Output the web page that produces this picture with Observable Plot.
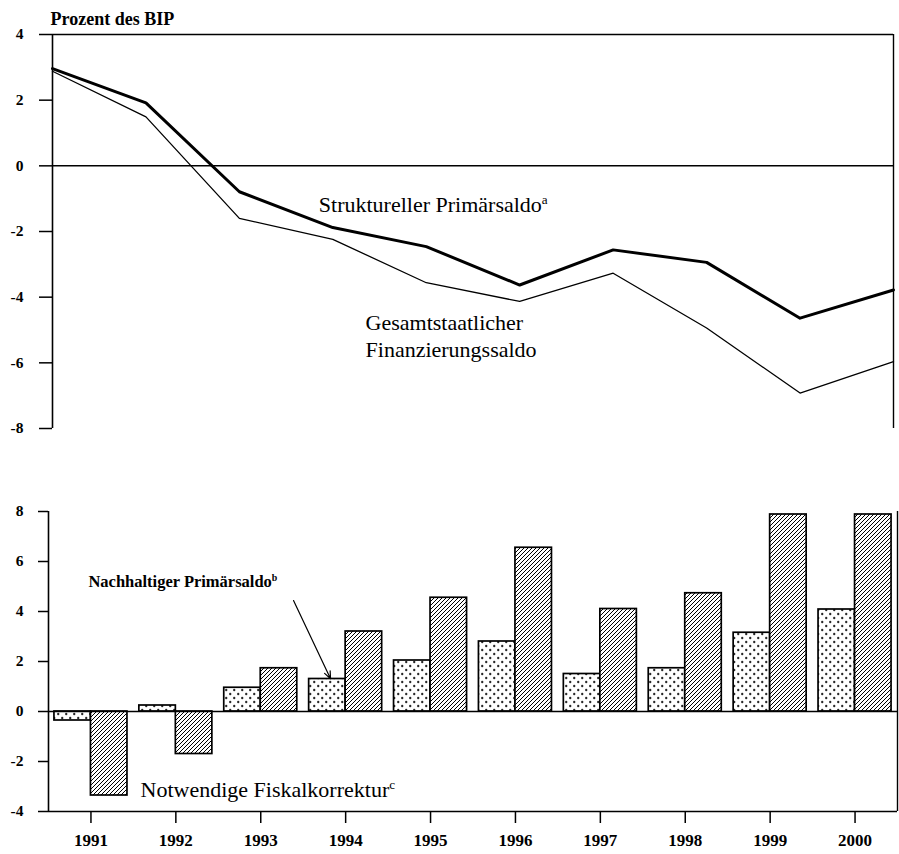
<!DOCTYPE html>
<html><head><meta charset="utf-8">
<script src="https://cdn.jsdelivr.net/npm/d3@7"></script>
<script src="https://cdn.jsdelivr.net/npm/@observablehq/plot@0.6"></script>
<style>
body{margin:0;background:#fff;}
#chart{width:899px;height:854px;position:relative;background:#fff;}
#chart svg{display:block;}
</style></head><body>
<svg width="0" height="0" style="position:absolute">
<defs>
<pattern id="dots" width="8" height="8" patternUnits="userSpaceOnUse">
<rect width="8" height="8" fill="white"/>
<path d="M1,2h2.4M2.2,0.8v2.4M5,6h2.4M6.2,4.8v2.4" stroke="black" stroke-width="1"/>
</pattern>
<pattern id="hatch" width="4" height="4" patternUnits="userSpaceOnUse">
<rect width="4" height="4" fill="white"/>
<path d="M-1,1 l2,-2 M0,4 l4,-4 M3,5 l2,-2" stroke="black" stroke-width="1"/>
</pattern>
</defs></svg>
<div id="chart"></div>
<script>
const years = [1991, 1992, 1993, 1994, 1995, 1996, 1997, 1998, 1999, 2000];
const strukturellerPrimaersaldo = [2.96, 1.92, -0.79, -1.88, -2.46, -3.63, -2.56, -2.94, -4.64, -3.78];
const finanzierungssaldo = [2.88, 1.49, -1.6, -2.24, -3.56, -4.13, -3.27, -4.94, -6.92, -5.96];
const nachhaltigerPrimaersaldo = [-0.36, 0.24, 0.95, 1.3, 2.04, 2.8, 1.5, 1.73, 3.15, 4.08];
const fiskalkorrektur = [-3.36, -1.7, 1.73, 3.2, 4.55, 6.55, 4.1, 4.73, 7.88, 7.88];
const yTicksTop = [-8, -6, -4, -2, 0, 2, 4];
const yTicksBottom = [-4, -2, 0, 2, 4, 6, 8];

const lineStruct = years.map((year, i) => ({year, v: strukturellerPrimaersaldo[i]}));
const lineFin = years.map((year, i) => ({year, v: finanzierungssaldo[i]}));
const barsNach = years.map((year, i) => ({year, v: nachhaltigerPrimaersaldo[i]}));
const barsFisk = years.map((year, i) => ({year, v: fiskalkorrektur[i]}));
const barWidth = 0.43;
const font = "'Liberation Serif', 'Times New Roman', serif";

const topChart = Plot.plot({
  width: 899, height: 440,
  marginLeft: 52, marginRight: 6, marginTop: 34, marginBottom: 12,
  style: {fontFamily: font, fontSize: "15px", fontWeight: "bold", background: "white", color: "black"},
  x: {domain: [years[0], years[years.length - 1]], axis: null},
  y: {domain: [-8, 4]},
  marks: [
    Plot.axisY({ticks: yTicksTop, tickSize: 13, tickPadding: 16, tickFormat: d => String(d), label: null, strokeWidth: 1.5}),
    Plot.ruleX([years[0]], {stroke: "black", strokeWidth: 1.6}),
    Plot.ruleX([years[years.length - 1]], {stroke: "black", strokeWidth: 1.4}),
    Plot.ruleY([4], {stroke: "black", strokeWidth: 1.4}),
    Plot.ruleY([0], {stroke: "black", strokeWidth: 1.5}),
    Plot.line(lineFin, {x: "year", y: "v", stroke: "black", strokeWidth: 1.3}),
    Plot.line(lineStruct, {x: "year", y: "v", stroke: "black", strokeWidth: 3}),
    Plot.text(["Prozent des BIP"], {frameAnchor: "top-left", dx: -2, dy: -15, textAnchor: "start", lineAnchor: "middle", fontSize: 18, fontWeight: "bold"}),
    Plot.text([{x: 1993.85, y: -1.2, t: "Struktureller Primärsaldo"}], {x: "x", y: "y", text: "t", textAnchor: "start", lineAnchor: "middle", fontSize: 22, fontWeight: "normal"}),
    Plot.text([{x: 1994.35, y: -5.14, t: "Gesamtstaatlicher\nFinanzierungssaldo"}], {x: "x", y: "y", text: "t", textAnchor: "start", lineAnchor: "middle", lineHeight: 1.23, fontSize: 22, fontWeight: "normal"})
  ]
});

const bottomChart = Plot.plot({
  width: 899, height: 414,
  marginLeft: 48, marginRight: 2, marginTop: 71, marginBottom: 43,
  style: {fontFamily: font, fontSize: "15px", fontWeight: "bold", background: "white", color: "black"},
  x: {domain: [years[0] - 0.5, years[years.length - 1] + 0.5]},
  y: {domain: [-4, 8]},
  marks: [
    Plot.axisY({ticks: yTicksBottom, tickSize: 10, tickPadding: 15, tickFormat: d => String(d), label: null, strokeWidth: 1.5}),
    Plot.axisX({ticks: years, tickSize: 12, tickPadding: 10, tickFormat: d => String(d), label: null, strokeWidth: 1.5}),
    Plot.rect(barsNach, {x1: d => d.year - barWidth, x2: d => d.year, y1: d => 0, y2: "v", fill: "url(#dots)", stroke: "black", strokeWidth: 1.7}),
    Plot.rect(barsFisk, {x1: d => d.year, x2: d => d.year + barWidth, y1: d => 0, y2: "v", fill: "url(#hatch)", stroke: "black", strokeWidth: 1.7}),
    Plot.ruleX([years[0] - 0.5], {stroke: "black", strokeWidth: 1.6}),
    Plot.ruleX([years[years.length - 1] + 0.5], {stroke: "black", strokeWidth: 1.4}),
    Plot.ruleY([-4], {stroke: "black", strokeWidth: 1.6}),
    Plot.ruleY([0], {stroke: "black", strokeWidth: 1.5}),
    Plot.arrow([{x1: 1993.386, y1: 4.44, x2: 1993.822, y2: 1.31}], {x1: "x1", y1: "y1", x2: "x2", y2: "y2", stroke: "black", strokeWidth: 1.2, headLength: 10, headAngle: 45}),
    Plot.text([{x: 1990.97, y: 5.19, t: "Nachhaltiger Primärsaldo"}], {x: "x", y: "y", text: "t", textAnchor: "start", lineAnchor: "middle", fontSize: 16.5, fontWeight: "bold"}),
    Plot.text([{x: 1991.584, y: -3.12, t: "Notwendige Fiskalkorrektur"}], {x: "x", y: "y", text: "t", textAnchor: "start", lineAnchor: "middle", fontSize: 22, fontWeight: "normal"})
  ]
});

function addSup(svg, label, sup) {
  d3.select(svg).selectAll("text").filter(function() { return this.textContent === label; })
    .append("tspan").attr("font-size", "60%").attr("dy", "-0.6em").text(sup);
}
addSup(topChart, "Struktureller Primärsaldo", "a");
addSup(bottomChart, "Nachhaltiger Primärsaldo", "b");
addSup(bottomChart, "Notwendige Fiskalkorrektur", "c");

const yearLabels = new Set(years.map(String));
const tickLabels = new Set([...yTicksTop, ...yTicksBottom].map(String));
for (const svg of [topChart, bottomChart]) {
  d3.select(svg).selectAll("text").each(function() {
    const t = this.textContent;
    if (yearLabels.has(t)) this.style.fontSize = "17px";
    else if (tickLabels.has(t)) this.style.fontSize = "15.5px";
  });
}

const chart = document.getElementById("chart");
chart.appendChild(topChart);
chart.appendChild(bottomChart);
</script>
</body></html>
